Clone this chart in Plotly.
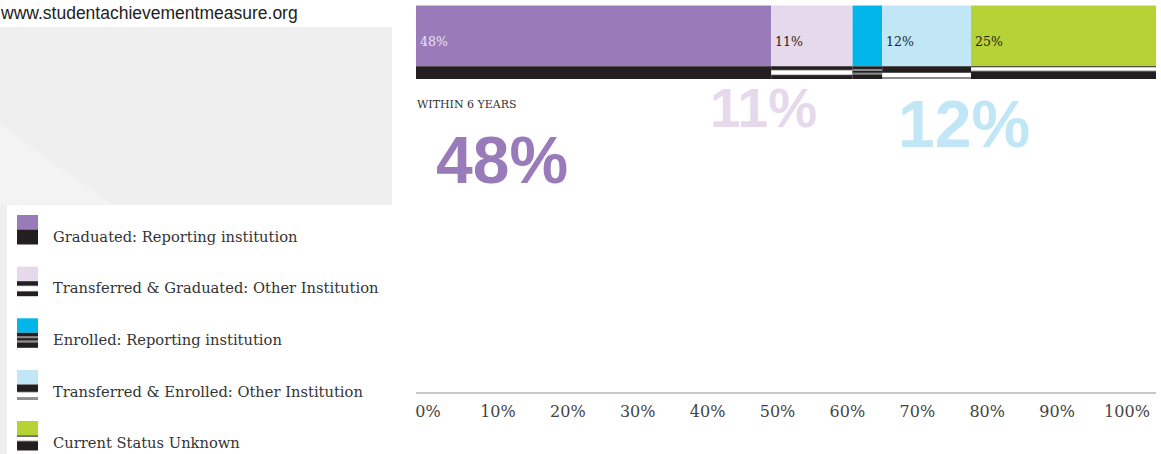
import plotly.graph_objects as go

# ---------------- data ----------------
categories = [
    "Graduated: Reporting institution",
    "Transferred & Graduated: Other Institution",
    "Enrolled: Reporting institution",
    "Transferred & Enrolled: Other Institution",
    "Current Status Unknown",
]
values = [48, 11, 4, 12, 25]
bar_labels = ["48%", "11%", "", "12%", "25%"]
tick_vals = [0, 10, 20, 30, 40, 50, 60, 70, 80, 90, 100]
tick_text = ["0%", "10%", "20%", "30%", "40%", "50%", "60%", "70%", "80%", "90%", "100%"]
subtitle = "WITHIN 6 YEARS"
url_text = "www.studentachievementmeasure.org"

# ---------------- style ----------------
W, H = 1161, 454
colors = ["#9a7bba", "#e6d9ec", "#00b6ea", "#c1e7f7", "#b5d334"]
label_colors = ["#ece4f4", "#231f20", "#231f20", "#231f20", "#231f20"]
BLACK = "#231f20"
GREY = "#8c8c8c"
WHITE = "#ffffff"
# stripe patterns (fractions of strip height) drawn over black
patterns = [
    [],
    [(0.28, 0.70, GREY), (0.33, 0.65, WHITE)],
    [(0.22, 0.36, GREY), (0.50, 0.66, GREY)],
    [(0.48, 1.00, GREY), (0.53, 0.84, WHITE)],
    [(0.05, 0.40, GREY), (0.10, 0.34, WHITE)],
]
SERIF = "DejaVu Serif"
SANS = "Liberation Sans"

def px(X):
    return X / W

def py(Y):
    return 1 - Y / H

PLOT_L, PLOT_R, PLOT_B = 416, 1156, 392
BAR_TOP, BAR_BOT, STRIP_BOT = 5.5, 66.3, 79.0

fig = go.Figure()

starts = []
acc = 0
for v in values:
    starts.append(acc)
    acc += v

# main segments
for i, v in enumerate(values):
    fig.add_trace(go.Bar(
        x=[v], base=[starts[i]], y=[(BAR_TOP + BAR_BOT) / 2], width=[BAR_BOT - BAR_TOP],
        orientation="h", marker=dict(color=colors[i], line=dict(width=0)),
        name=categories[i], showlegend=False, hoverinfo="name",
    ))

# strips
strip_h = STRIP_BOT - BAR_BOT
for i, v in enumerate(values):
    fig.add_trace(go.Bar(
        x=[v], base=[starts[i]], y=[(BAR_BOT + STRIP_BOT) / 2], width=[strip_h],
        orientation="h", marker=dict(color=BLACK, line=dict(width=0)),
        showlegend=False, hoverinfo="skip",
    ))
    for f0, f1, c in patterns[i]:
        fig.add_trace(go.Bar(
            x=[v], base=[starts[i]], y=[BAR_BOT + (f0 + f1) / 2 * strip_h],
            width=[(f1 - f0) * strip_h],
            orientation="h", marker=dict(color=c, line=dict(width=0)),
            showlegend=False, hoverinfo="skip",
        ))

# invisible trace so the tick-label axis is drawn
fig.add_trace(go.Scatter(x=tick_vals, y=[PLOT_B] * len(tick_vals), xaxis="x2", yaxis="y",
                         mode="markers", marker=dict(size=1, opacity=0),
                         showlegend=False, hoverinfo="skip"))

shapes = []
annotations = []

# background panels on the left
shapes.append(dict(type="rect", xref="paper", yref="paper", x0=px(0), x1=px(392),
                   y0=py(27), y1=py(454), fillcolor="#efefef", line_width=0, layer="below"))
shapes.append(dict(type="path", xref="paper", yref="paper",
                   path=f"M {px(0)},{py(124)} L {px(112)},{py(205)} L {px(0)},{py(205)} Z",
                   fillcolor="#f3f3f3", line_width=0, layer="below"))
shapes.append(dict(type="rect", xref="paper", yref="paper", x0=px(7), x1=px(392),
                   y0=py(205), y1=py(454), fillcolor="#ffffff", line_width=0, layer="below"))

annotations.append(dict(text=url_text, xref="paper", yref="paper", x=px(-2), y=py(13),
                        xanchor="left", yanchor="middle", showarrow=False,
                        font=dict(family=SANS, size=17.5, color="#222222")))

# legend (custom swatches)
row_top = [215, 266.7, 318.3, 370, 421]
SW_L, SW_R = 17, 38
for i, cat in enumerate(categories):
    t = row_top[i]
    shapes.append(dict(type="rect", xref="paper", yref="paper", x0=px(SW_L), x1=px(SW_R),
                       y0=py(t), y1=py(t + 14.5), fillcolor=colors[i], line_width=0))
    s0, s1 = t + 14.5, t + 29.5
    shapes.append(dict(type="rect", xref="paper", yref="paper", x0=px(SW_L), x1=px(SW_R),
                       y0=py(s0), y1=py(s1), fillcolor=BLACK, line_width=0))
    for f0, f1, c in patterns[i]:
        shapes.append(dict(type="rect", xref="paper", yref="paper", x0=px(SW_L), x1=px(SW_R),
                           y0=py(s0 + f0 * (s1 - s0)), y1=py(s0 + f1 * (s1 - s0)),
                           fillcolor=c, line_width=0))
    annotations.append(dict(text=cat, xref="paper", yref="paper", x=px(51), y=py(t + 21),
                            xanchor="left", yanchor="middle", showarrow=False,
                            font=dict(family=SERIF, size=14.7, color="#333333")))

# labels inside the bar
for i, lab in enumerate(bar_labels):
    if lab:
        annotations.append(dict(text=lab, xref="x", yref="y", x=starts[i] + 0.3, y=41,
                                xanchor="left", yanchor="middle", showarrow=False,
                                font=dict(family=SERIF, size=12.5, color=label_colors[i])))

annotations.append(dict(text=subtitle, xref="paper", yref="paper", x=px(415), y=py(104),
                        xanchor="left", yanchor="middle", showarrow=False,
                        font=dict(family=SERIF, size=11, color="#333333")))

# big highlight numbers
big = [(0, 11.62, 160, 66), (1, 46.9, 108, 55), (3, 74.0, 124, 66)]
for idx, xv, yv, sz in big:
    annotations.append(dict(text=f"<b>{values[idx]}%</b>", xref="x", yref="y", x=xv, y=yv,
                            xanchor="center", yanchor="middle", showarrow=False,
                            font=dict(family=SANS, size=sz, color=colors[idx])))

fig.update_layout(
    width=W, height=H,
    margin=dict(l=0, r=0, t=0, b=0),
    paper_bgcolor="white", plot_bgcolor="white",
    barmode="overlay",
    showlegend=False,
    shapes=shapes, annotations=annotations,
    xaxis=dict(domain=[px(PLOT_L), px(PLOT_R)], range=[0, 100], showgrid=False, zeroline=False,
               showticklabels=False, ticks="", showline=True, linecolor="#c8c8c8", linewidth=2,
               fixedrange=True),
    xaxis2=dict(overlaying="x", anchor="y", side="bottom",
                range=[-1.72, 104.15], tickvals=tick_vals, ticktext=tick_text,
                showgrid=False, zeroline=False, showline=False,
                ticks="outside", ticklen=5, tickcolor="rgba(0,0,0,0)",
                tickfont=dict(family=SERIF, size=16, color="#444444")),
    yaxis=dict(domain=[1 - PLOT_B / H, 1], range=[PLOT_B, 0], showgrid=False, zeroline=False,
               showticklabels=False, showline=False, ticks=""),
)

fig.write_html("out.html")
